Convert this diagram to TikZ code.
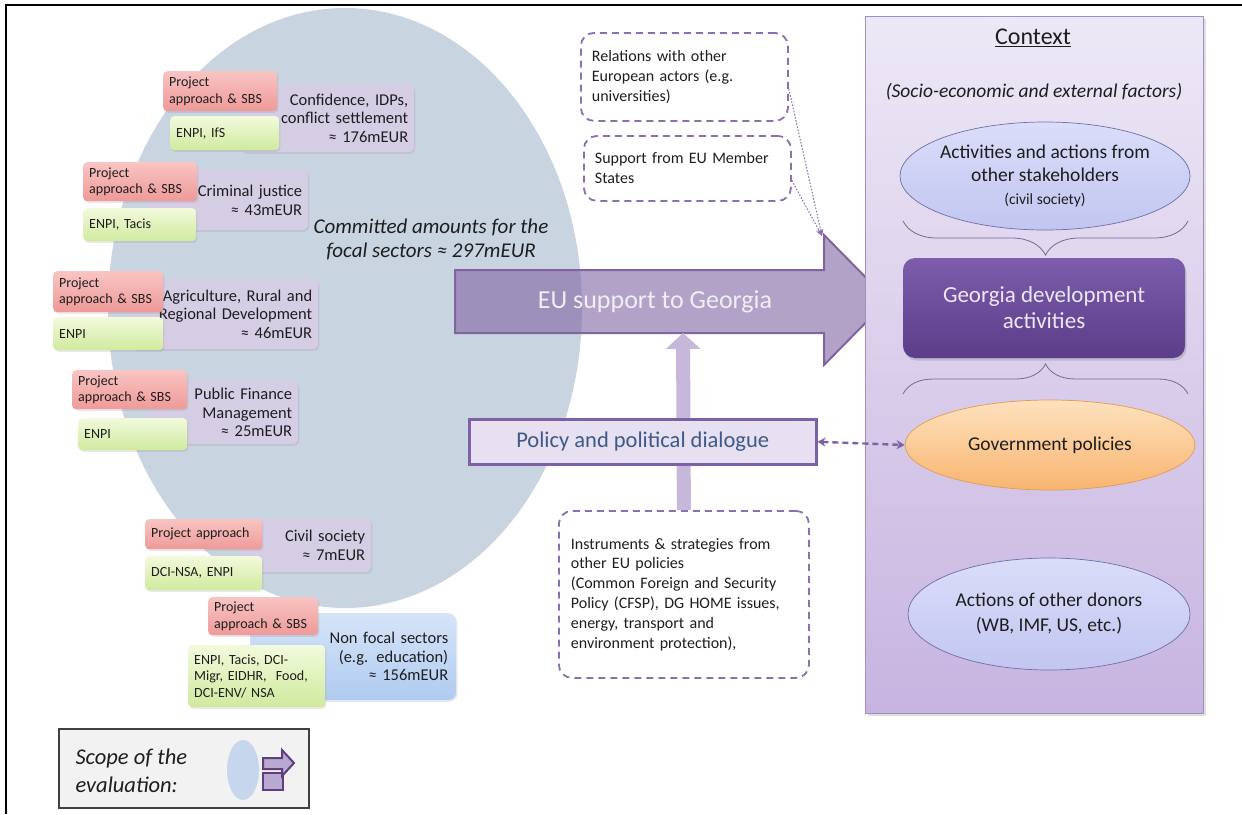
\documentclass[tikz,border=0pt]{standalone}
\usepackage{fontspec}
\setmainfont{Carlito}
\usetikzlibrary{arrows.meta,shapes.geometric,decorations.pathreplacing,shadows,calc}

\definecolor{ellC}{HTML}{C9D4E1}
\definecolor{pkT}{HTML}{F8C4C2}
\definecolor{pkB}{HTML}{EE9A98}
\definecolor{grT}{HTML}{F2FADC}
\definecolor{grB}{HTML}{CFEA9E}
\definecolor{secC}{HTML}{D5CDE4}
\definecolor{blT}{HTML}{D6E4F8}
\definecolor{blB}{HTML}{AFCBF0}
\definecolor{euF}{HTML}{8064A2}
\definecolor{euT}{HTML}{F0EEF4}
\definecolor{vAr}{HTML}{C7B7DB}
\definecolor{polF}{HTML}{E6E0F0}
\definecolor{polD}{HTML}{7E61A5}
\definecolor{polT}{HTML}{3D5A88}
\definecolor{dsh}{HTML}{8A70AF}
\definecolor{pnlT}{HTML}{EDE8F6}
\definecolor{pnlB}{HTML}{C7B4E0}
\definecolor{pnlD}{HTML}{A090BC}
\definecolor{actT}{HTML}{DADDF9}
\definecolor{actB}{HTML}{C2C5F0}
\definecolor{ovD}{HTML}{6E6FA6}
\definecolor{geoT}{HTML}{7C5DAD}
\definecolor{geoB}{HTML}{5B3D89}
\definecolor{geoTx}{HTML}{ECE7F3}
\definecolor{govT}{HTML}{FEE2BE}
\definecolor{govB}{HTML}{F8B470}
\definecolor{govD}{HTML}{E39B52}
\definecolor{brC}{HTML}{6B6F8F}
\definecolor{lgF}{HTML}{F2F2F2}
\definecolor{lgD}{HTML}{404040}
\definecolor{lgE}{HTML}{C6D6EC}
\definecolor{icF}{HTML}{B9A8CF}
\definecolor{icD}{HTML}{5E3F82}
\definecolor{txt}{HTML}{1E1E1E}

\begin{document}
\begin{tikzpicture}[x=1pt,y=-1pt,
  softshadow/.style={drop shadow={opacity=0.18,shadow xshift=1.2pt,shadow yshift=-1.6pt}},
  base/.style={anchor=north west, inner ysep=0pt, text=txt, softshadow},
  pa/.style={base, rounded corners=4pt, top color=pkT, bottom color=pkB, inner xsep=6pt,
    align=left, font=\fontsize{14}{16.5}\selectfont},
  fi/.style={base, rounded corners=4pt, top color=grT, bottom color=grB, inner xsep=6pt,
    align=left, font=\fontsize{14}{16.5}\selectfont},
  sec/.style={base, rounded corners=6pt, fill=secC, inner xsep=6pt,
    align=right, font=\fontsize{16.5}{18.5}\selectfont},
  nfs/.style={base, rounded corners=8pt, top color=blT, bottom color=blB, inner xsep=8pt,
    align=right, font=\fontsize{16.5}{18.5}\selectfont},
  dbox/.style={anchor=north west, draw=dsh, line width=1.8pt, dash pattern=on 7pt off 5pt,
    rounded corners=13pt, inner ysep=0pt, align=left, text=txt, font=\fontsize{16}{19.8}\selectfont},
  dotarr/.style={draw=dsh, line width=1pt, dash pattern=on 1.6pt off 1.6pt,
    -{Stealth[length=7pt,width=6pt]}},
  oval/.style={ellipse, inner sep=0pt, align=center, text=txt},
  curly/.style={decorate, draw=brC, line width=0.8pt}
]
\useasboundingbox (0,0) rectangle (1242,814);

% page frame
\draw[line width=1.2pt] (6,814) -- (6,5) -- (1242,5);

% focal sector area
\fill[ellC] (345,308) ellipse [x radius=237, y radius=300];
\node[font=\itshape\fontsize{21}{24}\selectfont, align=center, text=txt] (comm) at (431,239)
  {Committed amounts for the\\focal sectors ≈ 297mEUR};

% confidence building
\node[sec, minimum width=174pt, minimum height=68pt, text width=162pt] (sec1) at (240,84)
  {Confidence, IDPs,\\conflict settlement\\≈ 176mEUR};
\node[pa, minimum width=114pt, minimum height=40pt, text width=102pt] (pa1) at (163,71)
  {Project\\approach \& SBS};
\node[fi, minimum width=109pt, minimum height=34pt, text width=97pt] (fi1) at (170,116)
  {ENPI, IfS};

% criminal justice
\node[sec, minimum width=158pt, minimum height=60pt, text width=146pt] (sec2) at (150,170)
  {Criminal justice\\≈ 43mEUR};
\node[pa, minimum width=114pt, minimum height=39pt, text width=102pt] (pa2) at (83,162)
  {Project\\approach \& SBS};
\node[fi, minimum width=113pt, minimum height=33pt, text width=101pt] (fi2) at (83,208)
  {ENPI, Tacis};

% agriculture
\node[sec, minimum width=188pt, minimum height=70pt, text width=176pt] (sec3) at (130,279)
  {Agriculture, Rural and\\Regional Development\\≈ 46mEUR};
\node[pa, minimum width=110pt, minimum height=41pt, text width=98pt] (pa3) at (53,271)
  {Project\\approach \& SBS};
\node[fi, minimum width=110pt, minimum height=33pt, text width=98pt] (fi3) at (53,317)
  {ENPI};

% public finance management
\node[sec, minimum width=148pt, minimum height=63pt, text width=136pt] (sec4) at (150,381)
  {Public Finance\\Management\\≈ 25mEUR};
\node[pa, minimum width=115pt, minimum height=39pt, text width=103pt] (pa4) at (72,370)
  {Project\\approach \& SBS};
\node[fi, minimum width=109pt, minimum height=32pt, text width=97pt] (fi4) at (78,418)
  {ENPI};

% civil society
\node[sec, minimum width=131pt, minimum height=54pt, text width=119pt] (sec5) at (240,518)
  {Civil society\\≈ 7mEUR};
\node[pa, minimum width=117pt, minimum height=30pt, text width=105pt] (pa5) at (145,519)
  {Project approach};
\node[fi, minimum width=117pt, minimum height=34pt, text width=105pt] (fi5) at (145,556)
  {DCI-NSA, ENPI};

% non focal sectors
\node[nfs, minimum width=206pt, minimum height=87pt, text width=190pt] (sec6) at (250,613)
  {Non focal sectors\\(e.g. education)\\≈ 156mEUR};
\node[pa, minimum width=110pt, minimum height=38pt, text width=98pt] (pa6) at (208,597)
  {Project\\approach \& SBS};
\node[fi, minimum width=137pt, minimum height=62pt, text width=125pt] (fi6) at (188,645)
  {ENPI, Tacis, DCI-\\Migr, EIDHR,\ \ Food,\\DCI-ENV/ NSA};

% EU support arrow
\path[fill=euF, fill opacity=0.6, draw=euF, line width=2pt, line join=miter]
  (455,270) -- (824,270) -- (824,235) -- (888,300) -- (824,365) -- (824,333) -- (455,333) -- cycle;
\node[text=euT, font=\fontsize{26}{30}\selectfont] (eu) at (655,302) {EU support to Georgia};
\coordinate (eubot) at (683,333);
\coordinate (eutop) at (822,236);

% other EU policies
\node[dbox, minimum width=250pt, minimum height=167pt, text width=226pt, inner xsep=12pt] (ins) at (558,510)
  {Instruments \& strategies from\\other EU policies\\(Common Foreign and Security\\Policy (CFSP), DG HOME issues,\\energy, transport and\\environment protection),};
\draw[vAr, line width=14pt, -{Triangle[width=34pt,length=16pt]}] (ins.north) -- (eubot);

% policy dialogue
\node[anchor=north west, draw=polD, line width=2.5pt, fill=polF, minimum width=347pt, minimum height=45pt,
  inner sep=0pt, text=polT, font=\fontsize{22.5}{26}\selectfont, softshadow] (pol) at (468,418)
  {Policy and political dialogue};

% other European actors
\node[dbox, minimum width=207pt, minimum height=88pt, text width=185pt, inner xsep=11pt] (rel) at (580,32)
  {Relations with other\\European actors (e.g.\\universities)};
\node[dbox, minimum width=207pt, minimum height=65pt, text width=185pt, inner xsep=11pt] (sup) at (583,135)
  {Support from EU Member\\States};
\draw[dotarr] ($(rel.east)+(0,12)$) -- (eutop);
\draw[dotarr] ($(sup.east)+(0,12)$) -- (eutop);

% context panel
\node[anchor=north west, draw=pnlD, line width=1.2pt, top color=pnlT, bottom color=pnlB,
  minimum width=338pt, minimum height=697pt, inner sep=0pt,
  drop shadow={opacity=0.25,shadow xshift=2pt,shadow yshift=-2pt}] (ctx) at (865,16) {};
\node[font=\fontsize{24}{28}\selectfont, text=txt] (ctxT) at (1033,38) {\underline{Context}};
\node[font=\itshape\fontsize{19.5}{22}\selectfont, text=txt] (ctxS) at (1034,92)
  {(Socio-economic and external factors)};

\node[oval, top color=actT, bottom color=actB, draw=ovD, line width=0.7pt,
  minimum width=290pt, minimum height=108pt, inner xsep=-12pt,
  font=\fontsize{19.5}{23}\selectfont] (act) at (1045,176)
  {Activities and actions from\\other stakeholders\\{\fontsize{15.5}{18}\selectfont(civil society)}};

\node[rounded corners=12pt, top color=geoT, bottom color=geoB, minimum width=282pt, minimum height=100pt,
  text=geoTx, align=center, font=\fontsize{23}{26}\selectfont,
  drop shadow={opacity=0.3,shadow xshift=1.5pt,shadow yshift=-2.5pt}] (geo) at (1044,308)
  {Georgia development\\activities};

\draw[curly, decoration={brace, amplitude=34pt}] (1188,221) -- (903,221);
\draw[curly, decoration={brace, amplitude=30pt}] (903,394) -- (1188,394);

\node[oval, top color=govT, bottom color=govB, draw=govD, line width=0.7pt,
  minimum width=290pt, minimum height=90pt, font=\fontsize{19.5}{23}\selectfont] (gov) at (1050,445)
  {Government policies};

\node[oval, top color=actT, bottom color=actB, draw=ovD, line width=0.7pt,
  minimum width=282pt, minimum height=112pt, font=\fontsize{19.5}{25}\selectfont] (don) at (1049,614)
  {Actions of other donors\\(WB, IMF, US, etc.)};

% dialogue with government
\draw[draw=polD, line width=2.4pt, dash pattern=on 6pt off 4pt,
  {Stealth[length=8pt,width=9pt]}-{Stealth[length=8pt,width=9pt]}] (pol.east) -- (gov.west);

% legend
\node[anchor=north west, draw=lgD, line width=1.5pt, fill=lgF, minimum width=250pt, minimum height=79pt,
  inner sep=0pt] (leg) at (58,728) {};
\node[anchor=west, align=left, text=txt, font=\itshape\fontsize{22.5}{28}\selectfont] (legT) at (72,771)
  {Scope of the\\evaluation:};
\node[ellipse, fill=lgE, minimum width=32pt, minimum height=60pt, inner sep=0pt] (legE) at (243,770) {};
\draw[fill=icF, draw=icD, line width=2pt] (263,773) rectangle (283,790);
\draw[fill=icF, draw=icD, line width=2pt, line join=miter]
  (263,758) -- (282,758) -- (282,750) -- (294,763) -- (282,776) -- (282,769) -- (263,769) -- cycle;
\end{tikzpicture}
\end{document}
